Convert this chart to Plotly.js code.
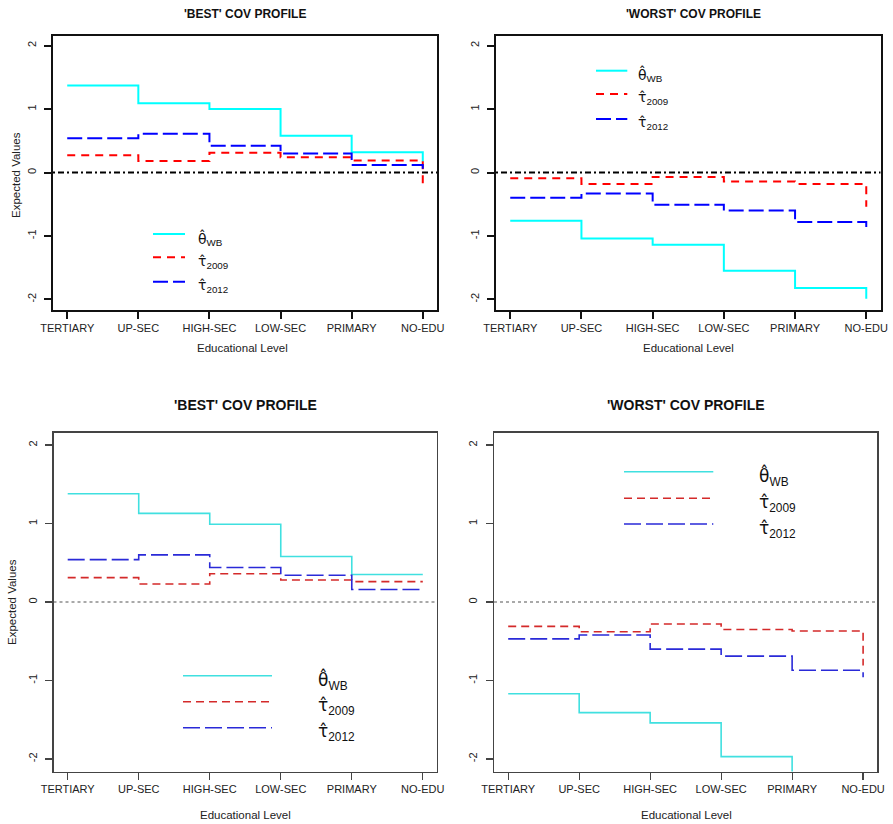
<!DOCTYPE html>
<html>
<head>
<meta charset="utf-8">
<script src="https://cdn.plot.ly/plotly-3.0.1.min.js"></script>
<style>html,body{margin:0;padding:0;background:#fff;}#chart{width:893px;height:824px;}</style>
</head>
<body>
<div id="chart"></div>
<script>
// ---------- data ----------
const categories = ["TERTIARY", "UP-SEC", "HIGH-SEC", "LOW-SEC", "PRIMARY", "NO-EDU"];
const levels = [1, 2, 3, 4, 5, 6];
const yTickVals = [-2, -1, 0, 1, 2];
const yTickLabels = ["-2", "-1", "0", "1", "2"];
const panelTitles = ["'BEST' COV PROFILE", "'WORST' COV PROFILE", "'BEST' COV PROFILE", "'WORST' COV PROFILE"];
const seriesSymbols = ["θ\u0302", "τ\u0302", "τ\u0302"];
const seriesSubs = ["WB", "2009", "2012"];

const topBest_thetaWB   = [1.37, 1.09, 1.00, 0.58, 0.32, 0.17];
const topBest_tau2009   = [0.27, 0.18, 0.31, 0.24, 0.19, -0.17];
const topBest_tau2012   = [0.54, 0.61, 0.42, 0.30, 0.12, 0.01];

const topWorst_thetaWB  = [-0.76, -1.04, -1.14, -1.55, -1.82, -1.99];
const topWorst_tau2009  = [-0.09, -0.18, -0.07, -0.14, -0.18, -0.54];
const topWorst_tau2012  = [-0.40, -0.33, -0.51, -0.60, -0.78, -0.86];

const botBest_thetaWB   = [1.38, 1.13, 0.99, 0.58, 0.35, 0.35];
const botBest_tau2009   = [0.31, 0.23, 0.36, 0.28, 0.26, 0.26];
const botBest_tau2012   = [0.54, 0.60, 0.44, 0.34, 0.16, 0.16];

const botWorst_thetaWB  = [-1.17, -1.41, -1.54, -1.97, -2.30, -2.50];
const botWorst_tau2009  = [-0.31, -0.38, -0.28, -0.35, -0.37, -0.81];
const botWorst_tau2012  = [-0.47, -0.42, -0.60, -0.69, -0.87, -0.96];

// ---------- layout helpers ----------
const W = 893, H = 824;
const px = v => v / W;
const py = v => 1 - v / H;
const FONT = "Liberation Sans, Arial, Helvetica, sans-serif";

const topStyle = {
  colors: ["#00FFFF", "#FF0000", "#0000FF"],
  dashes: ["solid", "8px,6px", "15px,5px"],
  width: 2, boxColor: "#111", boxWidth: 2, tickWidth: 2,
  zeroColor: "#000", zeroDash: "2px,3px,6px,3px", zeroWidth: 2,
  titleSize: 12, labFs: 14
};
const botStyle = {
  colors: ["#40E0E0", "#D42A2A", "#2A2AD8"],
  dashes: ["solid", "8px,5px", "17px,5px"],
  width: 1.6, boxColor: "#444", boxWidth: 1.2, tickWidth: 1.2,
  zeroColor: "#555", zeroDash: "3px,3px", zeroWidth: 1.2,
  titleSize: 14, labFs: 17
};

const panels = [
  {ax: "", box: [53, 437, 35.5, 309.5], st: topStyle, data: [topBest_thetaWB, topBest_tau2009, topBest_tau2012],
   title: [245, 14], xt: [243, 347.5], yt: [16, 175],
   leg: {x0: 153, x1: 185, ys: [234, 257.3, 281.7], lx: 196}},
  {ax: "2", box: [496, 880.5, 35.5, 309.5], st: topStyle, data: [topWorst_thetaWB, topWorst_tau2009, topWorst_tau2012],
   title: [693, 14], xt: [688, 347.5], yt: null,
   leg: {x0: 596, x1: 627.3, ys: [70.7, 94, 119], lx: 635.7}},
  {ax: "3", box: [53.5, 437, 432.5, 771.5], st: botStyle, data: [botBest_thetaWB, botBest_tau2009, botBest_tau2012],
   title: [245, 405], xt: [245, 815], yt: [12, 602],
   leg: {x0: 183, x1: 272, ys: [675.7, 701.7, 727.7], lx: 316}},
  {ax: "4", box: [494, 877.3, 432.5, 771.5], st: botStyle, data: [botWorst_thetaWB, botWorst_tau2009, botWorst_tau2012],
   title: [686, 405], xt: [686, 815], yt: null,
   leg: {x0: 624, x1: 713.3, ys: [471.7, 498.3, 524], lx: 756.7}}
];

const traces = [];
const layout = {
  width: W, height: H,
  margin: {l: 0, r: 0, t: 0, b: 0},
  paper_bgcolor: "#fff", plot_bgcolor: "#fff",
  showlegend: false,
  shapes: [], annotations: []
};

panels.forEach((p, i) => {
  const st = p.st;
  const xa = "xaxis" + p.ax, ya = "yaxis" + p.ax;
  const xr = "x" + p.ax, yr = "y" + p.ax;
  layout[xa] = {
    domain: [px(p.box[0]), px(p.box[1])],
    range: [0.8, 6.2], anchor: yr,
    tickmode: "array", tickvals: levels, ticktext: categories,
    ticks: "outside", ticklen: 7, tickwidth: st.tickWidth, tickcolor: st.boxColor,
    showline: true, mirror: true, linecolor: st.boxColor, linewidth: st.boxWidth,
    showgrid: false, zeroline: false, fixedrange: true,
    tickfont: {family: FONT, size: 11, color: "#222"}
  };
  layout[ya] = {
    domain: [py(p.box[3]), py(p.box[2])],
    range: [-2.16, 2.16], anchor: xr,
    tickmode: "array", tickvals: yTickVals, ticktext: yTickLabels, tickangle: -90,
    ticks: "outside", ticklen: 7, tickwidth: st.tickWidth, tickcolor: st.boxColor,
    ticklabelstandoff: 4,
    showline: true, mirror: true, linecolor: st.boxColor, linewidth: st.boxWidth,
    showgrid: false, zeroline: false, fixedrange: true,
    tickfont: {family: FONT, size: 11, color: "#222"}
  };
  // zero reference line
  layout.shapes.push({type: "line", xref: xr + " domain", yref: yr, x0: 0, x1: 1, y0: 0, y1: 0,
    line: {color: st.zeroColor, width: st.zeroWidth, dash: st.zeroDash}});
  // step series
  p.data.forEach((vals, k) => {
    traces.push({
      type: "scatter", mode: "lines", x: levels, y: vals, xaxis: xr, yaxis: yr,
      line: {shape: "hv", color: st.colors[k], width: st.width, dash: st.dashes[k]},
      hoverinfo: "skip"
    });
  });
  // titles
  layout.annotations.push({xref: "paper", yref: "paper", x: px(p.title[0]), y: py(p.title[1]),
    xanchor: "center", yanchor: "middle", showarrow: false, text: "<b>" + panelTitles[i] + "</b>",
    font: {family: FONT, size: st.titleSize, color: "#111"}});
  layout.annotations.push({xref: "paper", yref: "paper", x: px(p.xt[0]), y: py(p.xt[1]),
    xanchor: "center", yanchor: "middle", showarrow: false, text: "Educational Level",
    font: {family: FONT, size: 11.5, color: "#222"}});
  if (p.yt) {
    layout.annotations.push({xref: "paper", yref: "paper", x: px(p.yt[0]), y: py(p.yt[1]),
      xanchor: "center", yanchor: "middle", showarrow: false, text: "Expected Values", textangle: -90,
      font: {family: FONT, size: 11.5, color: "#222"}});
  }
  // legend
  const lg = p.leg;
  lg.ys.forEach((yy, k) => {
    layout.shapes.push({type: "line", xref: "paper", yref: "paper",
      x0: px(lg.x0), x1: px(lg.x1), y0: py(yy), y1: py(yy),
      line: {color: st.colors[k], width: st.width, dash: st.dashes[k]}});
    layout.annotations.push({xref: "paper", yref: "paper", x: px(lg.lx), y: py(yy + st.labFs * 0.3),
      xanchor: "left", yanchor: "middle", showarrow: false,
      text: "<span style='font-family:DejaVu Sans'>" + seriesSymbols[k] + "</span><sub>" + seriesSubs[k] + "</sub>",
      font: {family: FONT, size: st.labFs, color: "#111"}});
  });
});

Plotly.newPlot("chart", traces, layout, {staticPlot: true, displayModeBar: false});
</script>
</body>
</html>
